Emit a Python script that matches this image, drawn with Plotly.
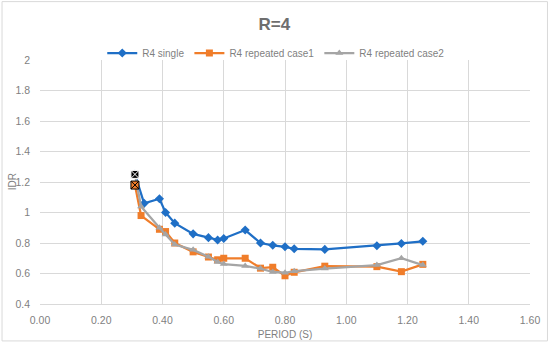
import plotly.graph_objects as go

# ---- data ----
series_names = ["R4 single", "R4 repeated case1", "R4 repeated case2"]

period_single = [0.31, 0.34, 0.39, 0.41, 0.44, 0.50, 0.55, 0.58, 0.60, 0.67, 0.72, 0.76, 0.80, 0.83, 0.93, 1.10, 1.18, 1.25]
idr_single    = [1.25, 1.06, 1.09, 1.00, 0.93, 0.86, 0.835, 0.82, 0.83, 0.885, 0.80, 0.785, 0.775, 0.762, 0.758, 0.782, 0.797, 0.811]

period_case1 = [0.31, 0.33, 0.39, 0.41, 0.44, 0.50, 0.55, 0.58, 0.60, 0.67, 0.72, 0.76, 0.80, 0.83, 0.93, 1.10, 1.18, 1.25]
idr_case1    = [1.18, 0.98, 0.89, 0.875, 0.80, 0.742, 0.708, 0.69, 0.70, 0.70, 0.635, 0.641, 0.585, 0.608, 0.648, 0.645, 0.612, 0.66]

period_case2 = [0.31, 0.33, 0.39, 0.41, 0.44, 0.50, 0.55, 0.58, 0.60, 0.67, 0.72, 0.76, 0.80, 0.83, 0.93, 1.10, 1.18, 1.25]
idr_case2    = [1.25, 1.04, 0.90, 0.855, 0.79, 0.755, 0.71, 0.675, 0.662, 0.65, 0.632, 0.61, 0.605, 0.615, 0.632, 0.655, 0.70, 0.655]

x_ticks = [0.0, 0.2, 0.4, 0.6, 0.8, 1.0, 1.2, 1.4, 1.6]
x_tick_labels = ["0.00", "0.20", "0.40", "0.60", "0.80", "1.00", "1.20", "1.40", "1.60"]
y_ticks = [0.4, 0.6, 0.8, 1.0, 1.2, 1.4, 1.6, 1.8, 2.0]
y_tick_labels = ["0.4", "0.6", "0.8", "1", "1.2", "1.4", "1.6", "1.8", "2"]

title_text = "R=4"
x_title = "PERIOD (S)"
y_title = "IDR"

# ---- styling ----
BLUE = "#1F6FC6"
ORANGE = "#F07D2A"
GRAY = "#A5A5A5"
TXT = "#7F7F7F"
GRID = "#D9D9D9"
FONT = "Liberation Sans"

fig = go.Figure()
specs = [
    (period_single, idr_single, series_names[0], BLUE, "diamond", "black", "white"),
    (period_case1, idr_case1, series_names[1], ORANGE, "square", ORANGE, "black"),
    (period_case2, idr_case2, series_names[2], GRAY, "triangle-up", "black", "white"),
]
for xs, ys, nm, col, sym, ffill, fline in specs:
    fig.add_trace(go.Scatter(
        x=xs, y=ys, name=nm, mode="lines+markers",
        line=dict(color=col, width=2.25),
        marker=dict(symbol=sym, color=col, size=7),
    ))
for xs, ys, nm, col, sym, ffill, fline in specs:
    # highlighted first point of each series
    fig.add_trace(go.Scatter(
        x=xs[:1], y=ys[:1], mode="markers", showlegend=False, hoverinfo="skip",
        marker=dict(symbol="square-x", color=ffill, size=8, line=dict(color=fline, width=1)),
    ))

W, H = 550, 345
L, R, T, B = 39.5, 20, 60, 40.5
pw, ph = W - L - R, H - T - B

def px_x(p):
    return (p - L) / pw

def px_y(p):
    return (H - B - p) / ph

fig.update_layout(
    width=W, height=H,
    margin=dict(l=L, r=R, t=T, b=B, pad=0, autoexpand=False),
    paper_bgcolor="white", plot_bgcolor="white",
    font=dict(family=FONT, size=10, color=TXT),
    title=dict(text="<b>" + title_text + "</b>", x=px_x(274), xref="paper", xanchor="center",
               y=1 - 24 / H, yanchor="middle",
               font=dict(family=FONT, size=17, color="#6E6E6E")),
    showlegend=True,
    legend=dict(orientation="h", x=px_x(276), xanchor="center", y=px_y(53), yanchor="middle",
                font=dict(family=FONT, size=10, color=TXT), itemwidth=30,
                bgcolor="rgba(0,0,0,0)", tracegroupgap=0),
    xaxis=dict(range=[0, 1.6], tickvals=x_ticks, ticktext=x_tick_labels, automargin=False,
               showgrid=True, gridcolor=GRID, gridwidth=1, zeroline=False,
               showline=True, linecolor=GRID, linewidth=1, ticks="",
               ticklabelstandoff=6,
               tickfont=dict(family=FONT, size=10.5, color=TXT),
               title=dict(text=x_title, standoff=6, font=dict(family=FONT, size=10, color=TXT))),
    yaxis=dict(range=[0.4, 2.0], tickvals=y_ticks, ticktext=y_tick_labels, automargin=False,
               showgrid=True, gridcolor=GRID, gridwidth=1, zeroline=False,
               showline=False, ticks="", ticklabelstandoff=9,
               tickfont=dict(family=FONT, size=10.5, color=TXT)),
    annotations=[dict(text=y_title, xref="paper", yref="paper", x=px_x(12), y=px_y(182),
                      xanchor="center", yanchor="middle", textangle=-90, showarrow=False,
                      font=dict(family=FONT, size=10, color=TXT))],
    shapes=[dict(type="rect", xref="paper", yref="paper",
                 x0=px_x(1.5), x1=px_x(547.5), y0=px_y(341.5), y1=px_y(1.5),
                 line=dict(color=GRID, width=1), fillcolor="rgba(0,0,0,0)", layer="below")],
)

fig.write_html("out.html", config={"displayModeBar": False},
               post_script="document.body.style.margin='0';document.body.style.overflow='hidden';")
